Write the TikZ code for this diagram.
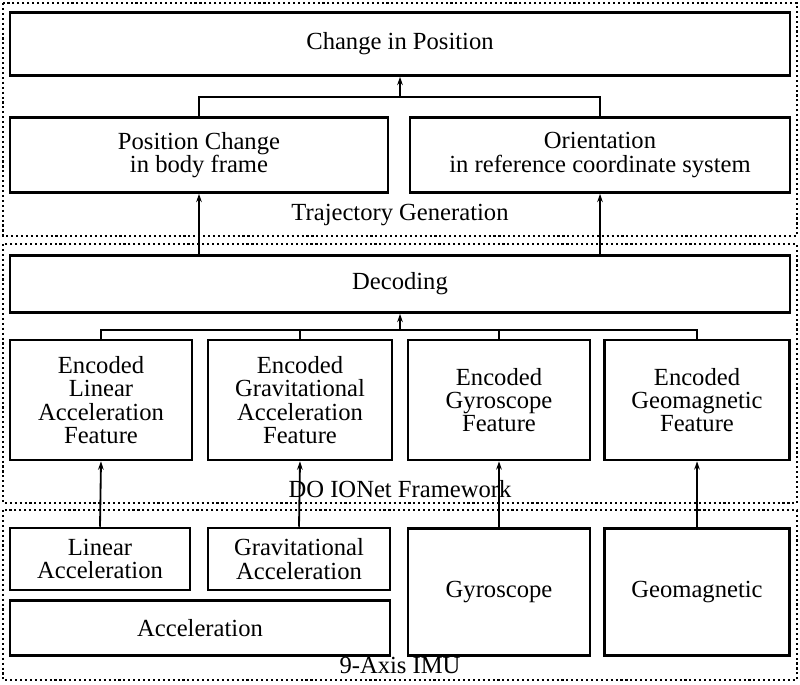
\documentclass[tikz,border=0pt]{standalone}
\usepackage{fontspec}
\setmainfont{Liberation Serif}
\usetikzlibrary{positioning,arrows.meta}
\begin{document}
\begin{tikzpicture}[x=0.025cm,y=-0.025cm,
	blk/.style = {draw, line width=1.8pt, align=center, font=\fontsize{17.5}{16.5}\selectfont, inner sep=0pt},
	grp/.style = {draw, dotted, line width=1.5pt},
	lbl/.style = {font=\fontsize{17.5}{16.5}\selectfont, inner sep=1pt},
	arr/.style = {-{Stealth[length=6pt,width=4pt]}, line width=1.3pt},
	ln/.style  = {line width=1.3pt}]
	\useasboundingbox (0,0) rectangle (800,684);
	% groups
	\draw[grp] (3,3) rectangle (797,236);
	\draw[grp] (3,244) rectangle (797,503);
	\draw[grp] (3,510) rectangle (797,680);
	\node[lbl] (tg) at (400,215) {Trajectory Generation};
	\node[lbl] (fw) at (400,489) {DO IONet Framework};
	\node[lbl] (imu) at (400,665) {9-Axis IMU};
	% trajectory generation
	\node[blk, minimum width=780*0.025cm, minimum height=63*0.025cm] (cp) at (400,44) {Change in Position};
	\node[blk, minimum width=378*0.025cm, minimum height=75*0.025cm] (pc) at (199,155) {Position Change\\in body frame};
	\node[blk, minimum width=380*0.025cm, minimum height=75*0.025cm] (or) at (600,155) {Orientation\\in reference coordinate system};
	% framework
	\node[blk, minimum width=780*0.025cm, minimum height=57*0.025cm] (dec) at (400,284) {Decoding};
	\node[blk, minimum width=182*0.025cm, minimum height=120*0.025cm] (e1) at (101,400) {Encoded\\Linear\\Acceleration\\Feature};
	\node[blk, minimum width=184*0.025cm, minimum height=120*0.025cm] (e2) at (300,400) {Encoded\\Gravitational\\Acceleration\\Feature};
	\node[blk, minimum width=182*0.025cm, minimum height=120*0.025cm] (e3) at (499,400) {Encoded\\Gyroscope\\Feature};
	\node[blk, minimum width=185*0.025cm, minimum height=120*0.025cm] (e4) at (697,400) {Encoded\\Geomagnetic\\Feature};
	% imu
	\node[blk, minimum width=180*0.025cm, minimum height=62*0.025cm] (la) at (100,559) {Linear\\Acceleration};
	\node[blk, minimum width=182*0.025cm, minimum height=62*0.025cm] (ga) at (299,559) {Gravitational\\Acceleration};
	\node[blk, minimum width=380*0.025cm, minimum height=55*0.025cm] (acc) at (200,628) {Acceleration};
	\node[blk, minimum width=182*0.025cm, minimum height=127*0.025cm] (gy) at (499,592) {Gyroscope};
	\node[blk, minimum width=185*0.025cm, minimum height=127*0.025cm] (gm) at (697,592) {Geomagnetic};
	% connectors
	\coordinate (j1) at (400,97);
	\draw[ln] (pc.north) |- (j1) -| (or.north);
	\draw[arr] (j1) -- (cp.south);
	\draw[arr] (dec.north -| pc.south) -- (pc.south);
	\draw[arr] (dec.north -| or.south) -- (or.south);
	\coordinate (j2) at (400,330);
	\draw[ln] (e1.north) |- (j2) -| (e4.north);
	\draw[ln] (e2.north) -- (e2.north |- j2);
	\draw[ln] (e3.north) -- (e3.north |- j2);
	\draw[arr] (j2) -- (dec.south);
	\draw[arr] (la.north) -- (e1.south);
	\draw[arr] (ga.north) -- (e2.south);
	\draw[arr] (gy.north) -- (e3.south);
	\draw[arr] (gm.north) -- (e4.south);
\end{tikzpicture}
\end{document}
